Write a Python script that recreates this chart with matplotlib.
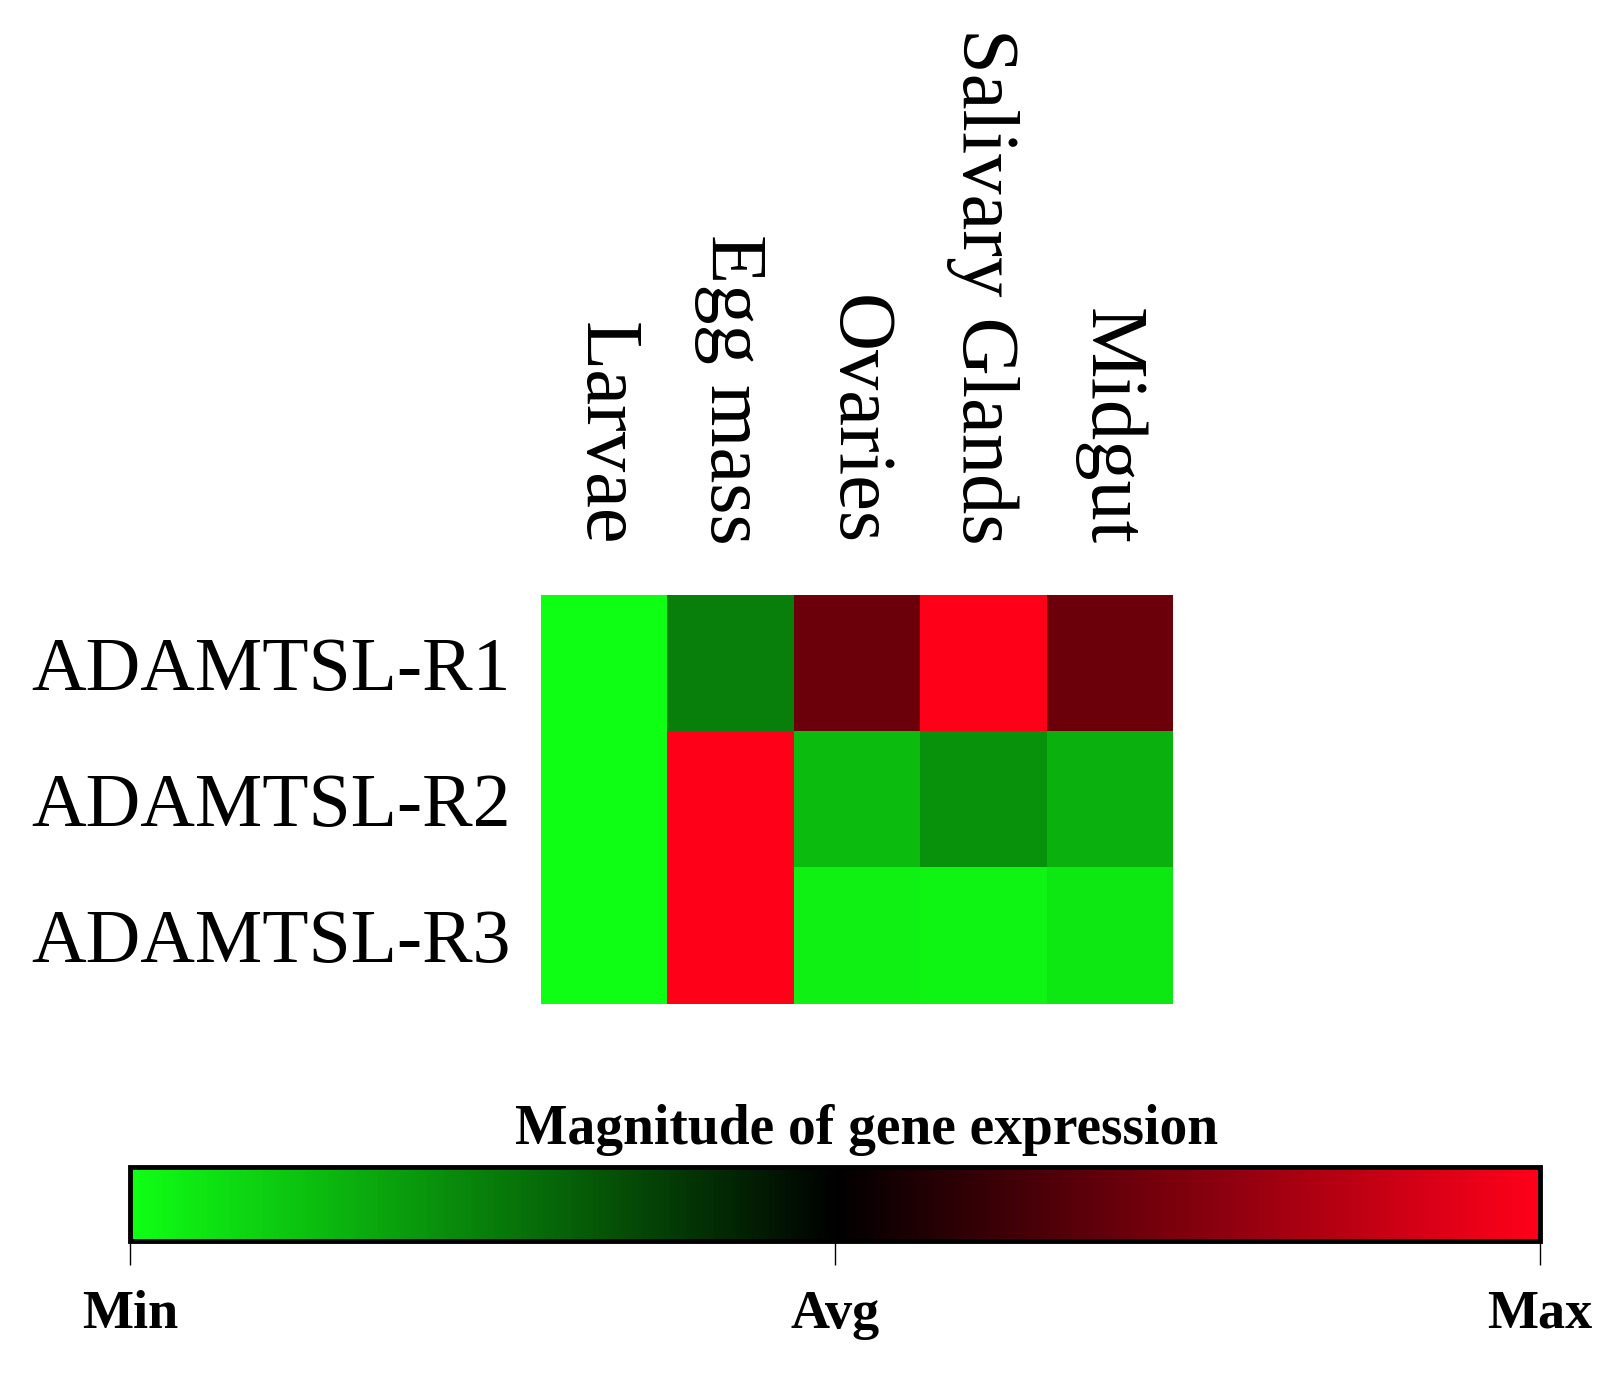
import numpy as np
import matplotlib
matplotlib.use('Agg')
import matplotlib.pyplot as plt
from matplotlib.colors import LinearSegmentedColormap

# 数据
tissues = ['Larvae', 'Egg mass', 'Ovaries', 'Salivary Glands', 'Midgut']
genes = ['ADAMTSL-R1', 'ADAMTSL-R2', 'ADAMTSL-R3']
r1 = [-1.0, -0.50, 0.42, 1.0, 0.42]
r2 = [-1.0, 1.0, -0.73, -0.57, -0.69]
r3 = [-1.0, 1.0, -0.94, -0.96, -0.90]
tick_names = ['Min', 'Avg', 'Max']

plt.rcParams['font.family'] = ['Liberation Serif', 'DejaVu Serif']

cmap = LinearSegmentedColormap.from_list(
    'gkr', [(0.0, (0.06, 1.0, 0.08)), (0.5, (0, 0, 0)), (1.0, (1.0, 0.0, 0.1))])

W, H = 1615, 1386
fig = plt.figure(figsize=(W / 100, H / 100), dpi=100)

# 热图
ax = fig.add_axes([541 / W, 1 - 1004 / H, 631 / W, 409 / H])
data = np.array([r1, r2, r3])
im = ax.imshow(data, cmap=cmap, vmin=-1, vmax=1, aspect='auto', interpolation='nearest')
for s in ax.spines.values():
    s.set_visible(False)
ax.set_yticks(range(len(genes)))
ax.set_yticklabels(genes, fontsize=54.5)
ax.tick_params(axis='y', length=0, pad=22)
ax.xaxis.tick_top()
ax.set_xticks(range(len(tissues)))
ax.set_xticklabels(tissues, fontsize=58, rotation=-90, ha='center', va='bottom')
ax.tick_params(axis='x', length=0, pad=36)

# 色标
cax = fig.add_axes([130 / W, 1 - 1241 / H, 1410 / W, 74 / H])
cb = fig.colorbar(im, cax=cax, orientation='horizontal', ticks=[-1, 0, 1])
cb.set_ticklabels(tick_names)
cb.outline.set_linewidth(3.5)
cax.tick_params(axis='x', length=17, width=1.0, pad=18, labelsize=39)
for t in cax.get_xticklabels():
    t.set_fontweight('bold')
fig.text(867 / W, 1 - 1130 / H, 'Magnitude of gene expression', fontsize=40,
         fontweight='bold', ha='center', va='center')

fig.savefig('out.png', dpi=100)
